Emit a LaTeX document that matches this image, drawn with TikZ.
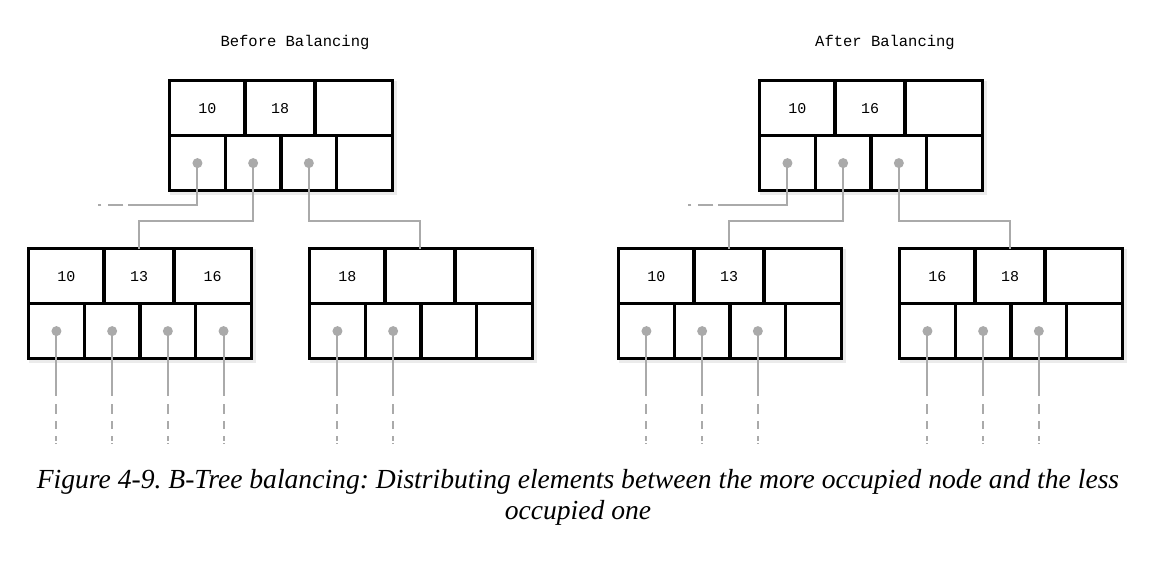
\documentclass[tikz,border=0pt]{standalone}
\usepackage{fontspec}
\setmainfont{Liberation Serif}
\newfontfamily\monofnt{Liberation Mono}
\usetikzlibrary{calc}
\definecolor{ptrgray}{HTML}{AAAAAA}
\tikzset{
  cell/.style={draw=black, fill=white, line width=3.2pt, minimum height=55pt, inner sep=0pt,
    outer sep=0pt, anchor=north west, font=\monofnt\fontsize{15}{18}\selectfont},
  ptr/.style={draw=ptrgray, line width=2pt},
  ptrdot/.style={circle, fill=ptrgray, inner sep=0pt, minimum size=10pt},
  shade box/.style={fill=black, opacity=0.08},
  title/.style={font=\monofnt\fontsize{15.5}{18}\selectfont},
  caption/.style={font=\fontsize{27.6}{31}\selectfont\itshape, anchor=base},
  leafdash/.style={draw=ptrgray, line width=2pt, dash pattern=on 0pt off 8pt on 10pt off 7pt on 8pt off 7pt on 5pt off 2pt on 1.5pt},
  sidedash/.style={draw=ptrgray, line width=2pt, dash pattern=on 13pt off 5pt on 15pt off 7pt on 4pt},
}
% #1 name, #2 outer left x, #3 outer top y, #4-#6 keys
\newcommand\BNode[6]{%
  \fill[shade box] (#2+2,#3+2) rectangle (#2+229,#3+116);
  \node[cell, minimum width=75.4pt] (#1-k1) at (#2+1.6,#3+1.6) {#4};
  \node[cell, minimum width=70pt]   (#1-k2) at (#2+77,#3+1.6) {#5};
  \node[cell, minimum width=77.4pt] (#1-k3) at (#2+147,#3+1.6) {#6};
  \node[cell, minimum width=55.7pt] (#1-p1) at (#2+1.6,#3+56.6) {};
  \node[cell, minimum width=55.7pt] (#1-p2) at (#2+57.3,#3+56.6) {};
  \node[cell, minimum width=55.7pt] (#1-p3) at (#2+113,#3+56.6) {};
  \node[cell, minimum width=55.7pt] (#1-p4) at (#2+168.7,#3+56.6) {};
}
\newcommand\LeafPtr[2]{% node, pointer index
  \coordinate (#1-s#2) at ($(#1-p#2.center)+(0,65)$);
  \coordinate (#1-e#2) at ($(#1-p#2.center)+(0,113)$);
  \draw[ptr] (#1-p#2.center) -- (#1-s#2);
  \draw[leafdash] (#1-s#2) -- (#1-e#2);
  \node[ptrdot] at (#1-p#2.center) {};
}
\begin{document}
\frenchspacing
\begin{tikzpicture}[x=1pt,y=-1pt]
\useasboundingbox (0,0) rectangle (1168,576);

% titles
\node[title] (t1) at (295,42) {Before Balancing};
\node[title] (t2) at (885,42) {After Balancing};

% ---------- before ----------
\BNode{A}{168}{79}{10}{18}{}
\BNode{AL}{27}{247}{10}{13}{16}
\BNode{AR}{308}{247}{18}{}{}

\coordinate (A-e) at ($(A-p1.center)+(-56,42)$);
\coordinate (A-f) at ($(A-p1.center)+(-99,42)$);
\draw[ptr] (A-p1.center) |- (A-e);
\draw[sidedash] (A-e) -- (A-f);
\draw[ptr] (A-p2.center) |- ($(AL-k2.north)+(0,-28)$) -- (AL-k2.north);
\draw[ptr] (A-p3.center) |- ($(AR-k2.north)+(0,-28)$) -- (AR-k2.north);
\node[ptrdot] (A-d1) at (A-p1.center) {};
\node[ptrdot] (A-d2) at (A-p2.center) {};
\node[ptrdot] (A-d3) at (A-p3.center) {};

\LeafPtr{AL}{1}\LeafPtr{AL}{2}\LeafPtr{AL}{3}\LeafPtr{AL}{4}
\LeafPtr{AR}{1}\LeafPtr{AR}{2}

% ---------- after ----------
\BNode{B}{758}{79}{10}{16}{}
\BNode{BL}{617}{247}{10}{13}{}
\BNode{BR}{898}{247}{16}{18}{}

\coordinate (B-e) at ($(B-p1.center)+(-56,42)$);
\coordinate (B-f) at ($(B-p1.center)+(-99,42)$);
\draw[ptr] (B-p1.center) |- (B-e);
\draw[sidedash] (B-e) -- (B-f);
\draw[ptr] (B-p2.center) |- ($(BL-k2.north)+(0,-28)$) -- (BL-k2.north);
\draw[ptr] (B-p3.center) |- ($(BR-k2.north)+(0,-28)$) -- (BR-k2.north);
\node[ptrdot] (B-d1) at (B-p1.center) {};
\node[ptrdot] (B-d2) at (B-p2.center) {};
\node[ptrdot] (B-d3) at (B-p3.center) {};

\LeafPtr{BL}{1}\LeafPtr{BL}{2}\LeafPtr{BL}{3}
\LeafPtr{BR}{1}\LeafPtr{BR}{2}\LeafPtr{BR}{3}

% caption
\node[caption] (cap1) at (578,488) {Figure 4-9. B-Tree balancing: Distributing elements between the more occupied node and the less};
\node[caption] (cap2) at (578,519) {occupied one};
\end{tikzpicture}
\end{document}
